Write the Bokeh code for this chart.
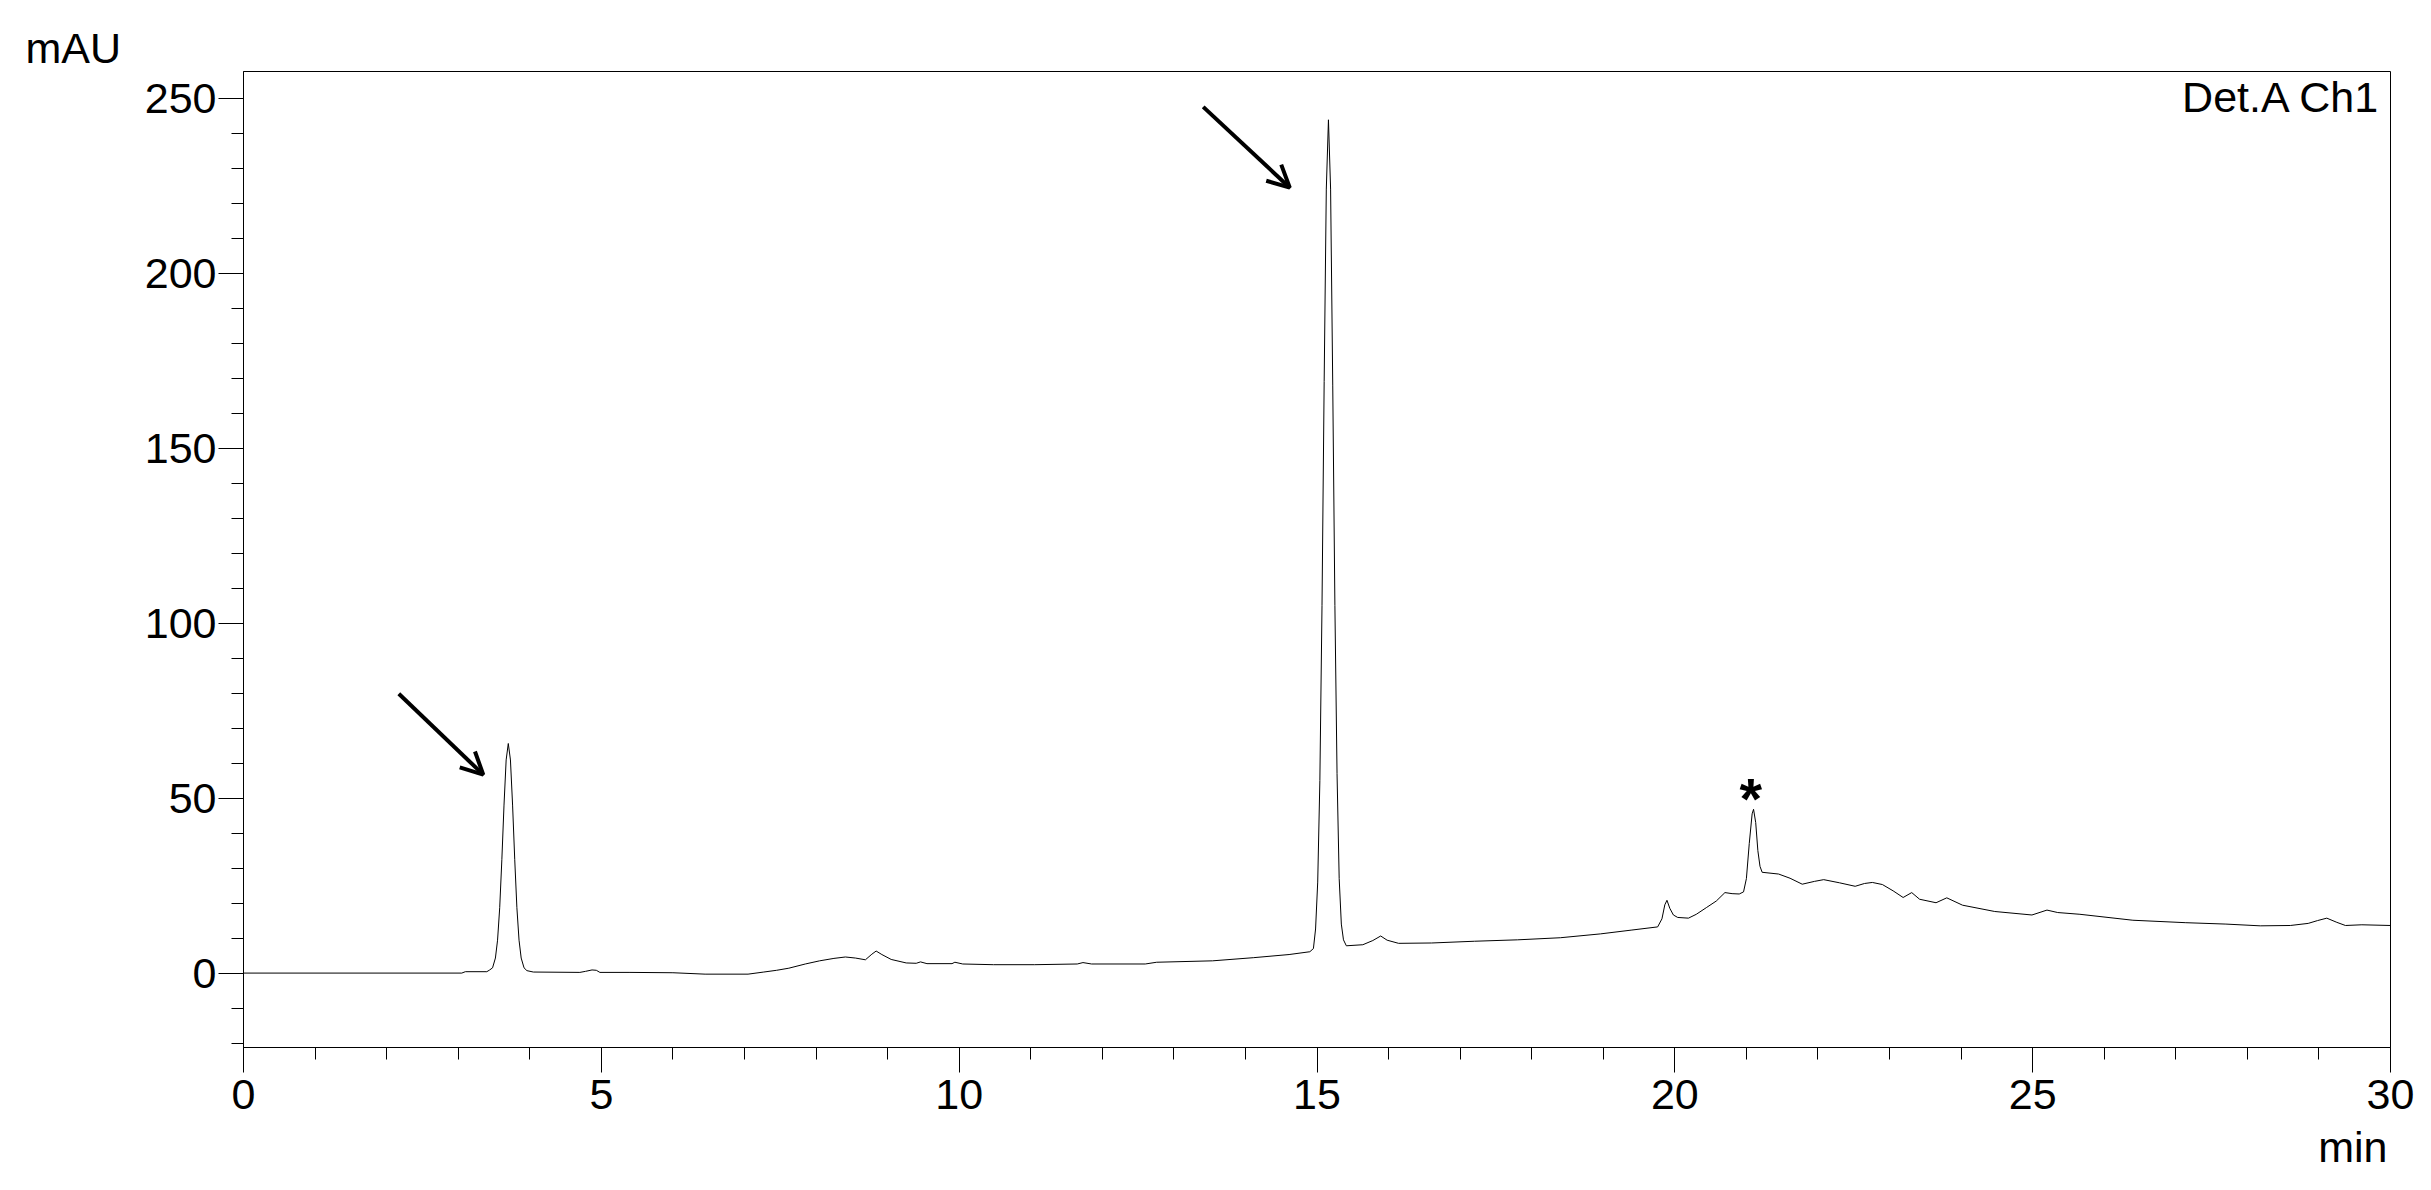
from bokeh.plotting import figure
from bokeh.models import Range1d, SingleIntervalTicker, Title, Arrow, OpenHead
from bokeh.embed import file_html
from bokeh.resources import INLINE
from bokeh.core.properties import value

# ---- data (time in min, signal in mAU) ----
time_min = [
    0.00, 3.05, 3.10, 3.40, 3.44, 3.48, 3.52, 3.55, 3.58, 3.61, 3.64, 3.67, 3.70,
    3.73, 3.76, 3.79, 3.82, 3.85, 3.88, 3.92, 3.96, 4.05, 4.70, 4.78, 4.87, 4.93,
    4.98, 5.40, 6.00, 6.45, 7.05, 7.27, 7.45, 7.62, 7.85, 8.05, 8.25, 8.41, 8.55,
    8.69, 8.78, 8.84, 8.92, 9.05, 9.26, 9.40, 9.46, 9.55, 9.90, 9.94, 10.05, 10.48,
    11.05, 11.65, 11.73, 11.85, 12.60, 12.76, 13.54, 14.11, 14.61, 14.90, 14.95,
    14.98, 15.01, 15.04, 15.07, 15.10, 15.13, 15.16, 15.19, 15.22, 15.25, 15.28,
    15.31, 15.34, 15.37, 15.41, 15.64, 15.78, 15.89, 15.98, 16.14, 16.60, 17.20,
    17.80, 18.40, 18.96, 19.40, 19.76, 19.82, 19.86, 19.89, 19.93, 19.98, 20.04,
    20.19, 20.30, 20.44, 20.58, 20.70, 20.80, 20.90, 20.96, 21.00, 21.04, 21.08,
    21.10, 21.13, 21.16, 21.19, 21.22, 21.45, 21.61, 21.78, 21.95, 22.08, 22.30,
    22.52, 22.65, 22.76, 22.90, 23.05, 23.19, 23.31, 23.42, 23.65, 23.80, 24.02,
    24.47, 24.99, 25.20, 25.35, 25.66, 26.40, 27.14, 27.70, 28.18, 28.60, 28.85,
    28.98, 29.11, 29.25, 29.37, 29.60, 30.00,
]
signal_mau = [
    0.0, 0.0, 0.4, 0.4, 0.9, 1.5, 4.3, 9.4, 18.7, 32.4, 48.0, 60.9, 65.6,
    60.9, 48.0, 32.4, 18.7, 9.4, 4.3, 1.5, 0.7, 0.3, 0.2, 0.5, 0.9, 0.8,
    0.2, 0.2, 0.1, -0.3, -0.3, 0.3, 0.8, 1.4, 2.6, 3.5, 4.2, 4.6, 4.3,
    3.8, 5.4, 6.3, 5.3, 3.9, 2.9, 2.8, 3.2, 2.7, 2.7, 3.1, 2.6, 2.4,
    2.4, 2.6, 3.0, 2.6, 2.6, 3.1, 3.5, 4.4, 5.3, 6.1, 7.0,
    12.6, 26.0, 55.0, 105.0, 169.0, 224.0, 243.8, 224.0, 168.0, 105.0, 57.0,
    27.0, 14.0, 9.5, 7.8, 8.1, 9.3, 10.6, 9.4, 8.5, 8.6, 9.1,
    9.5, 10.1, 11.2, 12.3, 13.2, 15.5, 19.5, 20.8, 18.5, 16.6, 15.9,
    15.7, 16.8, 18.7, 20.6, 23.0, 22.7, 22.6, 23.2, 27.0, 37.0, 45.5,
    46.8, 43.0, 35.0, 30.5, 28.8, 28.3, 27.1, 25.4, 26.2, 26.7, 25.8,
    24.8, 25.6, 25.9, 25.3, 23.5, 21.6, 23.0, 21.1, 20.1, 21.5, 19.4,
    17.6, 16.6, 18.0, 17.3, 16.8, 15.1, 14.4, 14.0, 13.5, 13.6, 14.2,
    15.0, 15.7, 14.5, 13.6, 13.8, 13.6,
]

x_tick_interval = 5      # 0, 5, ..., 30
y_tick_interval = 50     # 0, 50, ..., 250

# annotation arrows (start -> end, data units) and marker for the starred peak
arrow_x_start = [2.17, 13.41]
arrow_y_start = [79.8, 247.5]
arrow_x_end = [3.35, 14.62]
arrow_y_end = [56.7, 224.4]
star_x = [21.06]
star_y = [50.0]
channel_label = ["Det.A Ch1"]
channel_x = [29.86]
channel_y = [250.3]

FONT = "Liberation Sans"

p = figure(
    width=2420, height=1188,
    x_range=Range1d(0, 30), y_range=Range1d(-21.26, 257.6),
    output_backend="svg", toolbar_location=None,
    min_border_left=243, min_border_right=30,
    min_border_top=71, min_border_bottom=141,
)
p.grid.visible = False
p.background_fill_color = "white"
p.border_fill_color = "white"
p.outline_line_color = "black"
p.outline_line_width = 1
p.outline_line_alpha = 1.0

# y-axis unit as a title, shifted to the left of the frame
p.title.text = "mAU"
p.title.align = "left"
p.title.offset = -218
p.title.standoff = 0
p.title.vertical_align = "bottom"
p.title.text_font = FONT
p.title.text_font_size = "43px"
p.title.text_font_style = "normal"
p.title.text_color = "black"

p.xaxis.ticker = SingleIntervalTicker(interval=x_tick_interval, num_minor_ticks=5)
p.yaxis.ticker = SingleIntervalTicker(interval=y_tick_interval, num_minor_ticks=5)

for ax in (p.xaxis, p.yaxis):
    ax.axis_line_color = "black"
    ax.axis_line_width = 1
    ax.major_tick_line_color = "black"
    ax.minor_tick_line_color = "black"
    ax.major_tick_in = 0
    ax.major_tick_out = 25
    ax.minor_tick_in = 0
    ax.minor_tick_out = 12
    ax.major_label_text_font = FONT
    ax.major_label_text_font_size = "43px"
    ax.major_label_text_color = "black"
p.xaxis.major_label_standoff = 7
p.yaxis.major_label_standoff = 2

# x-axis unit under the right end of the axis
p.add_layout(Title(text="min", align="right", offset=3, standoff=22,
                   vertical_align="top", text_font=FONT, text_font_size="43px",
                   text_font_style="normal", text_color="black"), "below")

p.line(time_min, signal_mau, line_color="black", line_width=1)

for xs, ys, xe, ye in zip(arrow_x_start, arrow_y_start, arrow_x_end, arrow_y_end):
    p.add_layout(Arrow(x_start=xs, y_start=ys, x_end=xe, y_end=ye,
                       line_color="black", line_width=4,
                       end=OpenHead(size=22, line_width=4, line_color="black")))

p.text(x=star_x, y=star_y, text=["*"], text_font=value(FONT),
       text_font_style="bold", text_font_size="58px", text_color="black",
       text_align="center", text_baseline="alphabetic")

p.text(x=channel_x, y=channel_y, text=channel_label, text_font=value(FONT),
       text_font_size="43px", text_color="black",
       text_align="right", text_baseline="alphabetic")

open("out.html", "w").write(file_html(p, INLINE))
